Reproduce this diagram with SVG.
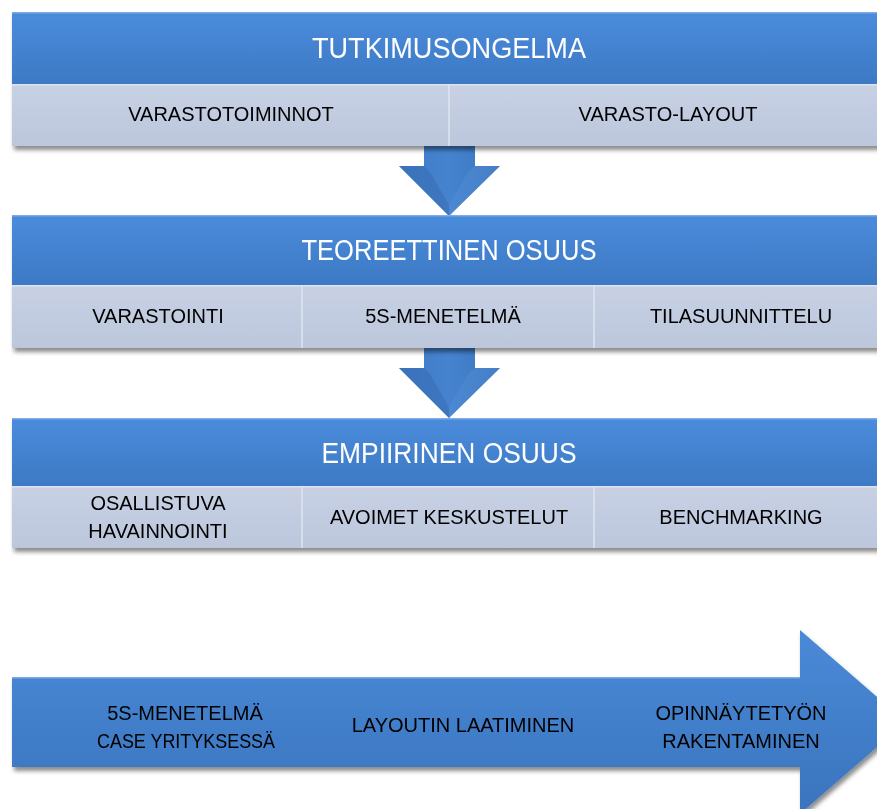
<svg xmlns="http://www.w3.org/2000/svg" width="877" height="809" viewBox="0 0 877 809">
<defs>
<linearGradient id="hdr" x1="0" y1="0" x2="0" y2="1">
<stop offset="0" stop-color="#4a8cdc"/>
<stop offset="1" stop-color="#3d79c4"/>
</linearGradient>
<linearGradient id="sub" x1="0" y1="0" x2="0" y2="1">
<stop offset="0" stop-color="#c8d1e4"/>
<stop offset="1" stop-color="#bcc7dc"/>
</linearGradient>
<linearGradient id="arr" x1="0" y1="0" x2="0" y2="1">
<stop offset="0" stop-color="#4a8ad8"/>
<stop offset="1" stop-color="#3a74bd"/>
</linearGradient>
<linearGradient id="dn" x1="0" y1="0" x2="1" y2="0">
<stop offset="0" stop-color="#3f7cc6"/>
<stop offset="0.5" stop-color="#4683cf"/>
<stop offset="1" stop-color="#3a73bb"/>
</linearGradient>
<filter id="sh" x="-5%" y="-10%" width="110%" height="130%">
<feDropShadow dx="2" dy="4" stdDeviation="2" flood-color="#000" flood-opacity="0.45"/>
</filter>
</defs>
<style>
.h{font-family:"Liberation Sans",Arial,sans-serif;font-size:29px;fill:#fff;text-anchor:middle}
.s{font-family:"Liberation Sans",Arial,sans-serif;font-size:20px;fill:#000;text-anchor:middle}
.dv{stroke:#dfe5f0;stroke-width:1.5}
.edge{stroke:#7eaae6;stroke-width:1.5}
.sedge{stroke:#dde3ee;stroke-width:1.5}
</style>
<rect width="877" height="809" fill="#fff"/>

<g id="connectors">
<g id="arrow1">
<polygon points="424,145 475,145 475,166 500,166 449,216 399,166 424,166" fill="url(#dn)"/>
<polygon points="399,166 424,166 430,172 449,205 449,216" fill="#3569b0" opacity="0.5"/>
<polygon points="500,166 475,166 468,172 449,205 449,216" fill="#5590d8" opacity="0.4"/>
</g>
<g id="arrow2">
<polygon points="424,347 475,347 475,368 500,368 449,418 399,368 424,368" fill="url(#dn)"/>
<polygon points="399,368 424,368 430,374 449,407 449,418" fill="#3569b0" opacity="0.5"/>
<polygon points="500,368 475,368 468,374 449,407 449,418" fill="#5590d8" opacity="0.4"/>
</g>
</g>

<g id="block1" filter="url(#sh)">
<rect x="12" y="12" width="880" height="72" fill="url(#hdr)"/>
<line x1="12" y1="12.75" x2="892" y2="12.75" class="edge"/>
<rect x="12" y="84" width="880" height="62" fill="url(#sub)"/>
<line x1="12" y1="84.75" x2="892" y2="84.75" class="sedge"/>
<line x1="449" y1="84" x2="449" y2="146" class="dv"/>
<text class="h" x="449" y="58" textLength="274" lengthAdjust="spacingAndGlyphs">TUTKIMUSONGELMA</text>
<text class="s" x="231" y="121">VARASTOTOIMINNOT</text>
<text class="s" x="668" y="121">VARASTO-LAYOUT</text>
</g>

<g id="block2" filter="url(#sh)">
<rect x="12" y="215" width="880" height="70" fill="url(#hdr)"/>
<line x1="12" y1="215.75" x2="892" y2="215.75" class="edge"/>
<rect x="12" y="285" width="880" height="63" fill="url(#sub)"/>
<line x1="12" y1="285.75" x2="892" y2="285.75" class="sedge"/>
<line x1="302" y1="285" x2="302" y2="348" class="dv"/>
<line x1="594" y1="285" x2="594" y2="348" class="dv"/>
<text class="h" x="449" y="260" textLength="295" lengthAdjust="spacingAndGlyphs">TEOREETTINEN OSUUS</text>
<text class="s" x="158" y="323">VARASTOINTI</text>
<text class="s" x="443" y="323">5S-MENETELMÄ</text>
<text class="s" x="741" y="323">TILASUUNNITTELU</text>
</g>

<g id="block3" filter="url(#sh)">
<rect x="12" y="418" width="880" height="68" fill="url(#hdr)"/>
<line x1="12" y1="418.75" x2="892" y2="418.75" class="edge"/>
<rect x="12" y="486" width="880" height="62" fill="url(#sub)"/>
<line x1="12" y1="486.75" x2="892" y2="486.75" class="sedge"/>
<line x1="302" y1="486" x2="302" y2="548" class="dv"/>
<line x1="594" y1="486" x2="594" y2="548" class="dv"/>
<text class="h" x="449" y="463" textLength="255" lengthAdjust="spacingAndGlyphs">EMPIIRINEN OSUUS</text>
<text class="s" x="158" y="510">OSALLISTUVA</text>
<text class="s" x="158" y="538">HAVAINNOINTI</text>
<text class="s" x="449" y="524">AVOIMET KESKUSTELUT</text>
<text class="s" x="741" y="524">BENCHMARKING</text>
</g>

<g id="process" filter="url(#sh)">
<polygon points="12,677 800,677 800,630 906,722 800,814 800,767 12,767" fill="url(#arr)"/>
<line x1="12" y1="677.75" x2="800" y2="677.75" class="edge"/>
<text class="s" x="185" y="720">5S-MENETELMÄ</text>
<text class="s" x="186" y="748" textLength="178" lengthAdjust="spacingAndGlyphs">CASE YRITYKSESSÄ</text>
<text class="s" x="463" y="732">LAYOUTIN LAATIMINEN</text>
<text class="s" x="741" y="720">OPINNÄYTETYÖN</text>
<text class="s" x="741" y="748">RAKENTAMINEN</text>
</g>
</svg>
